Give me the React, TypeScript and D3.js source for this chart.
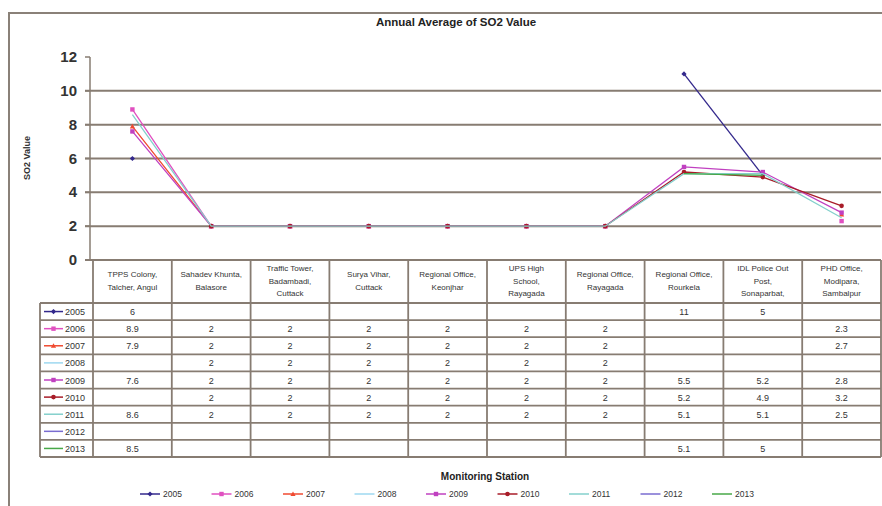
import React from 'react';
import * as d3 from 'd3';

const stations: string[][] = [
  ['TPPS Colony,', 'Talcher, Angul'],
  ['Sahadev Khunta,', 'Balasore'],
  ['Traffic Tower,', 'Badambadi,', 'Cuttack'],
  ['Surya Vihar,', 'Cuttack'],
  ['Regional Office,', 'Keonjhar'],
  ['UPS High', 'School,', 'Rayagada'],
  ['Regional Office,', 'Rayagada'],
  ['Regional Office,', 'Rourkela'],
  ['IDL Police Out', 'Post,', 'Sonaparbat,'],
  ['PHD Office,', 'Modipara,', 'Sambalpur'],
];

const years = ['2005', '2006', '2007', '2008', '2009', '2010', '2011', '2012', '2013'];

type V = number | null;
const s2005: V[] = [6, null, null, null, null, null, null, 11, 5, null];
const s2006: V[] = [8.9, 2, 2, 2, 2, 2, 2, null, null, 2.3];
const s2007: V[] = [7.9, 2, 2, 2, 2, 2, 2, null, null, 2.7];
const s2008: V[] = [null, 2, 2, 2, 2, 2, 2, null, null, null];
const s2009: V[] = [7.6, 2, 2, 2, 2, 2, 2, 5.5, 5.2, 2.8];
const s2010: V[] = [null, 2, 2, 2, 2, 2, 2, 5.2, 4.9, 3.2];
const s2011: V[] = [8.6, 2, 2, 2, 2, 2, 2, 5.1, 5.1, 2.5];
const s2012: V[] = [null, null, null, null, null, null, null, null, null, null];
const s2013: V[] = [8.5, null, null, null, null, null, null, 5.1, 5, null];

const seriesValues: V[][] = [s2005, s2006, s2007, s2008, s2009, s2010, s2011, s2012, s2013];
const yTicks = [0, 2, 4, 6, 8, 10, 12];

const colors = ['#33288c', '#e050c0', '#f04a30', '#9ed8f0', '#c040c0', '#a81c28', '#84d0cc', '#7a6cd0', '#48a848'];
const markers = ['diamond', 'square', 'triangle', 'none', 'square', 'circle', 'none', 'none', 'none'];

const FONT = 'Liberation Sans, Arial, sans-serif';
const GRID = '#877c72';

function Marker({ type, x, y, color }: { type: string; x: number; y: number; color: string }) {
  if (type === 'none') return null;
  const s = 2.6;
  if (type === 'diamond')
    return <path d={`M${x},${y - s}L${x + s},${y}L${x},${y + s}L${x - s},${y}Z`} fill={color} />;
  if (type === 'square') return <rect x={x - s + 0.4} y={y - s + 0.4} width={2 * s - 0.8} height={2 * s - 0.8} fill={color} />;
  if (type === 'triangle')
    return <path d={`M${x},${y - s}L${x + s},${y + s * 0.8}L${x - s},${y + s * 0.8}Z`} fill={color} />;
  return <circle cx={x} cy={y} r={s - 0.3} fill={color} />;
}

export default function App() {
  const W = 882;
  const H = 506;
  const x = d3.scaleBand<number>().domain(d3.range(stations.length)).range([93, 881]).padding(0);
  const y = d3.scaleLinear().domain([0, 12]).range([260, 57]);
  const bw = x.bandwidth();
  const cx = (i: number) => (x(i) as number) + bw / 2;

  const line = d3
    .line<V>()
    .defined((d) => d != null)
    .x((_, i) => cx(i))
    .y((d) => y(d as number));

  const tableTop = y(0);
  const headerBottom = 303;
  const rowH = (457 - headerBottom) / years.length;
  const keyLeft = 40;
  const tableRight = 881;

  const legendX0 = 140;
  const legendStep = 71.5;
  const legendY = 494;

  return (
    <svg width={W} height={H} style={{ position: 'absolute', left: 0, top: 0, background: '#fff' }} fontFamily={FONT}>
      <rect x={0} y={0} width={W} height={H} fill="#fff" />
      {/* chart frame */}
      <path d={`M9,${H}L9,13L${W},13`} fill="none" stroke="#8a8178" strokeWidth={2} />
      <text x={456} y={26} textAnchor="middle" fontSize={11.5} fontWeight="bold" fill="#222">
        Annual Average of SO2 Value
      </text>

      {/* gridlines */}
      {yTicks.filter((t) => t > 0 && t < 12).map((t) => (
        <line key={t} x1={85} x2={tableRight} y1={y(t)} y2={y(t)} stroke={GRID} strokeWidth={2} />
      ))}
      {yTicks.map((t) => (
        <g key={'t' + t}>
          <line x1={85} x2={90} y1={y(t)} y2={y(t)} stroke={GRID} strokeWidth={1.5} />
          <text x={77} y={y(t) + 5} textAnchor="end" fontSize={15} fontWeight="bold" fill="#333">
            {t}
          </text>
        </g>
      ))}
      <line x1={90} x2={90} y1={y(12)} y2={tableTop} stroke={GRID} strokeWidth={1.5} />
      <text transform={`translate(30,${158}) rotate(-90)`} textAnchor="middle" fontSize={9} fontWeight="bold" fill="#333">
        SO2 Value
      </text>

      {/* series */}
      {seriesValues.map((vals, si) => (
        <g key={years[si]}>
          <path d={line(vals) || ''} fill="none" stroke={colors[si]} strokeWidth={1.3} />
          {vals.map((v, i) =>
            v == null ? null : <Marker key={i} type={markers[si]} x={cx(i)} y={y(v)} color={colors[si]} />
          )}
        </g>
      ))}

      {/* data table */}
      <g stroke={GRID} strokeWidth={1.8} fill="none">
        <line x1={85} x2={tableRight} y1={tableTop} y2={tableTop} />
        {d3.range(years.length + 1).map((r) => (
          <line key={'h' + r} x1={keyLeft} x2={tableRight} y1={headerBottom + r * rowH} y2={headerBottom + r * rowH} />
        ))}
        <line x1={keyLeft} x2={keyLeft} y1={headerBottom} y2={457} />
        {d3.range(stations.length + 1).map((c) => {
          const xx = c < stations.length ? (x(c) as number) : tableRight;
          return <line key={'v' + c} x1={xx} x2={xx} y1={tableTop} y2={457} />;
        })}
      </g>
      {stations.map((lines, i) => {
        const lh = 12.5;
        const mid = (tableTop + headerBottom) / 2 - 1;
        const start = mid - ((lines.length - 1) * lh) / 2;
        return (
          <text key={'c' + i} textAnchor="middle" fontSize={8} fill="#333">
            {lines.map((l, k) => (
              <tspan key={k} x={cx(i)} y={start + k * lh + 3}>
                {l}
              </tspan>
            ))}
          </text>
        );
      })}
      {years.map((yr, r) => {
        const rc = headerBottom + r * rowH + rowH / 2;
        return (
          <g key={'r' + yr}>
            <line x1={44} x2={63} y1={rc} y2={rc} stroke={colors[r]} strokeWidth={1.5} />
            <Marker type={markers[r]} x={53.5} y={rc} color={colors[r]} />
            <text x={65} y={rc + 3.5} fontSize={9} fill="#333">
              {yr}
            </text>
            {seriesValues[r].map((v, i) =>
              v == null ? null : (
                <text key={i} x={cx(i)} y={rc + 3.5} textAnchor="middle" fontSize={9} fill="#333">
                  {String(v)}
                </text>
              )
            )}
          </g>
        );
      })}

      <text x={485} y={480} textAnchor="middle" fontSize={10} fontWeight="bold" fill="#222">
        Monitoring Station
      </text>

      {/* legend */}
      {years.map((yr, i) => {
        const lx = legendX0 + i * legendStep;
        return (
          <g key={'l' + yr}>
            <line x1={lx} x2={lx + 20} y1={legendY} y2={legendY} stroke={colors[i]} strokeWidth={1.5} />
            <Marker type={markers[i]} x={lx + 10} y={legendY} color={colors[i]} />
            <text x={lx + 23} y={legendY + 3} fontSize={8.5} fill="#333">
              {yr}
            </text>
          </g>
        );
      })}
    </svg>
  );
}
